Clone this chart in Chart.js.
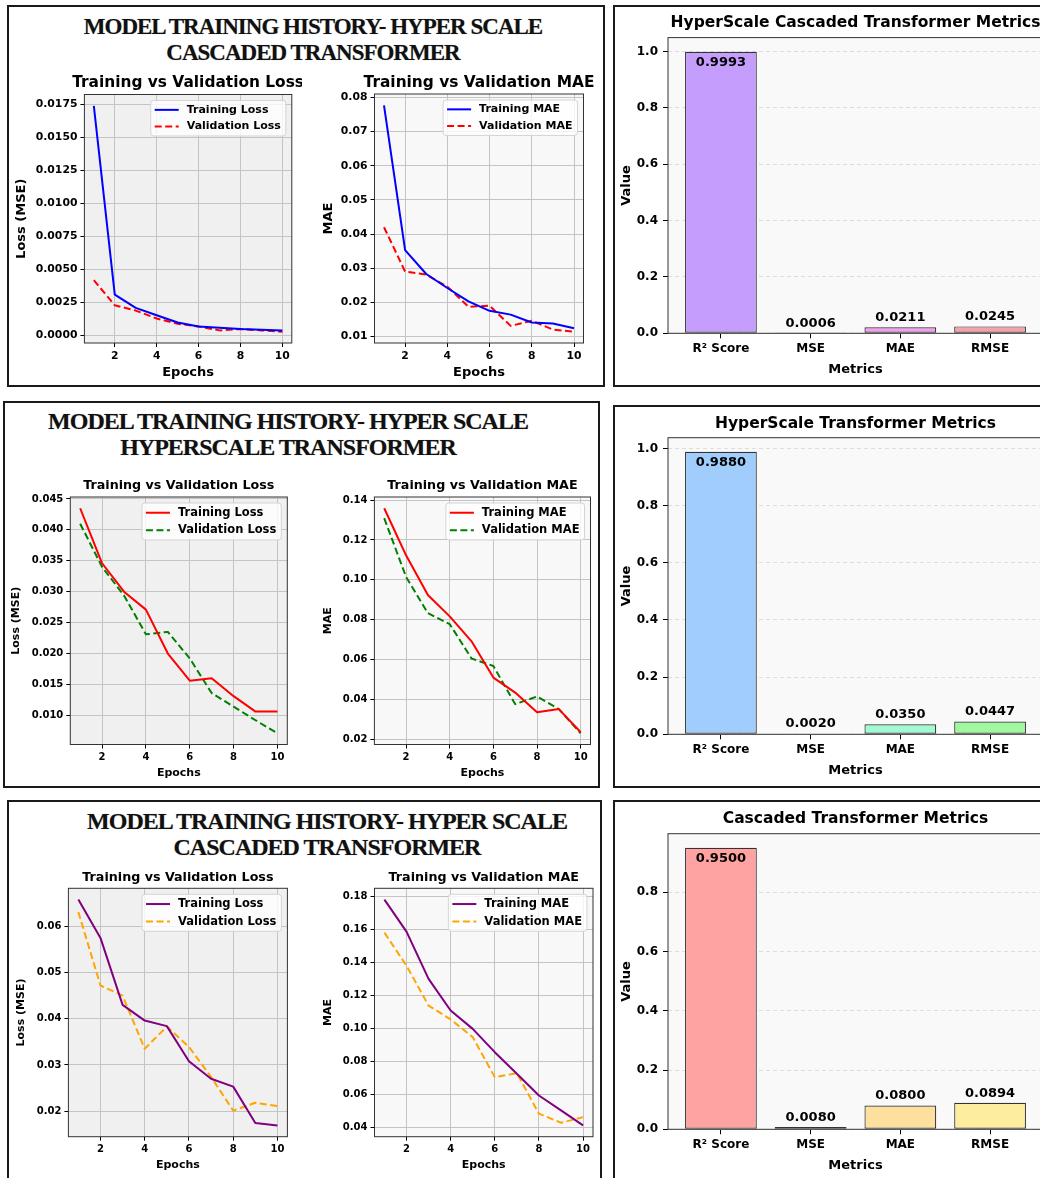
<!DOCTYPE html>
<html>
<head>
<meta charset="utf-8">
<title>Model training history - HyperScale transformers</title>
<script src="https://cdn.jsdelivr.net/npm/chart.js@4.4.1/dist/chart.umd.min.js"></script>
<style>
html, body { margin: 0; padding: 0; width: 1040px; height: 1178px; overflow: hidden; background: #fff; }
body { position: relative; }
.box { position: absolute; border: 2px solid #1a1a1a; box-sizing: border-box; }
.head { position: absolute; width: 600px; text-align: center; color: #111;
        font-family: "Liberation Serif", "Times New Roman", serif; font-weight: bold;
        letter-spacing: -1px; line-height: 25.6px; text-shadow: 0 0 1px rgba(0,0,0,0.35); }
canvas { position: absolute; }
</style>
</head>
<body>

<div class="box" style="left:7px;top:5px;width:598px;height:382px"></div>
<div class="box" style="left:613px;top:5px;width:600px;height:382px"></div>
<div class="box" style="left:3px;top:401px;width:597px;height:387px"></div>
<div class="box" style="left:613px;top:405px;width:600px;height:383px"></div>
<div class="box" style="left:7px;top:800px;width:595px;height:420px"></div>
<div class="box" style="left:613px;top:800px;width:600px;height:420px"></div>

<div class="head" style="left:13px;top:14px;font-size:23px">MODEL TRAINING HISTORY- HYPER SCALE<br>CASCADED TRANSFORMER</div>
<div class="head" style="left:-12px;top:409px;font-size:24px">MODEL TRAINING HISTORY- HYPER SCALE<br>HYPERSCALE TRANSFORMER</div>
<div class="head" style="left:27px;top:809px;font-size:24px">MODEL TRAINING HISTORY- HYPER SCALE<br>CASCADED TRANSFORMER</div>

<script>
// ---- data ----
const epochs = [1, 2, 3, 4, 5, 6, 7, 8, 9, 10];
const epochTicks = [2, 4, 6, 8, 10];

// HyperScale Cascaded Transformer (top row)
const hcTrainLoss = [0.0174, 0.0031, 0.0021, 0.00155, 0.0010, 0.0007, 0.0006, 0.0005, 0.00045, 0.0004];
const hcValLoss   = [0.0042, 0.0023, 0.0019, 0.0013, 0.0009, 0.0007, 0.0004, 0.0005, 0.0004, 0.0003];
const hcTrainMae  = [0.0777, 0.0353, 0.0283, 0.0242, 0.0203, 0.0175, 0.0164, 0.0141, 0.0138, 0.0124];
const hcValMae    = [0.0420, 0.0290, 0.0281, 0.0246, 0.0187, 0.0190, 0.0131, 0.0146, 0.0120, 0.0114];

// HyperScale Transformer (middle row)
const hsTrainLoss = [0.0435, 0.0346, 0.0300, 0.0271, 0.0200, 0.0156, 0.0160, 0.0131, 0.0106, 0.0106];
const hsValLoss   = [0.0410, 0.0340, 0.0294, 0.0231, 0.0235, 0.0192, 0.0136, 0.0114, 0.0092, 0.0071];
const hsTrainMae  = [0.1359, 0.1123, 0.0924, 0.0817, 0.0692, 0.0510, 0.0435, 0.0336, 0.0352, 0.0236];
const hsValMae    = [0.1309, 0.1015, 0.0833, 0.0778, 0.0606, 0.0568, 0.0377, 0.0415, 0.0352, 0.0231];

// Cascaded Transformer (bottom row)
const ctTrainLoss = [0.0658, 0.0575, 0.0430, 0.0396, 0.0384, 0.0308, 0.0270, 0.0253, 0.0174, 0.0169];
const ctValLoss   = [0.0631, 0.0472, 0.0450, 0.0335, 0.0383, 0.0339, 0.0274, 0.0201, 0.0218, 0.0211];
const ctTrainMae  = [0.1780, 0.1586, 0.1300, 0.1109, 0.0998, 0.0857, 0.0726, 0.0595, 0.0505, 0.0414];
const ctValMae    = [0.1580, 0.1380, 0.1139, 0.1055, 0.0948, 0.0706, 0.0730, 0.0485, 0.0430, 0.0464];

// final metrics
const metricNames = ['R\u00b2 Score', 'MSE', 'MAE', 'RMSE'];
const hcMetrics = [0.9993, 0.0006, 0.0211, 0.0245];
const hsMetrics = [0.9880, 0.0020, 0.0350, 0.0447];
const ctMetrics = [0.9500, 0.0080, 0.0800, 0.0894];

// tick values
const hcLossTicks = [0, 0.0025, 0.005, 0.0075, 0.01, 0.0125, 0.015, 0.0175];
const hcMaeTicks  = [0.01, 0.02, 0.03, 0.04, 0.05, 0.06, 0.07, 0.08];
const hsLossTicks = [0.010, 0.015, 0.020, 0.025, 0.030, 0.035, 0.040, 0.045];
const hsMaeTicks  = [0.02, 0.04, 0.06, 0.08, 0.10, 0.12, 0.14];
const ctLossTicks = [0.02, 0.03, 0.04, 0.05, 0.06];
const ctMaeTicks  = [0.04, 0.06, 0.08, 0.10, 0.12, 0.14, 0.16, 0.18];
const metricTicks = [0, 0.2, 0.4, 0.6, 0.8, 1.0];
const metricTicksShort = [0, 0.2, 0.4, 0.6, 0.8];

Chart.defaults.font.family = "'DejaVu Sans', sans-serif";
Chart.defaults.font.weight = 'bold';
Chart.defaults.color = '#000';

// ---- small plugins ----
const plotBg = {
  id: 'plotBg',
  beforeDraw(c, a, o) {
    const r = c.chartArea;
    c.ctx.save();
    c.ctx.fillStyle = o.color;
    c.ctx.fillRect(r.left, r.top, r.right - r.left, r.bottom - r.top);
    c.ctx.restore();
  }
};

const frame = {
  id: 'frame',
  afterDatasetsDraw(c) {
    const r = c.chartArea;
    c.ctx.save();
    c.ctx.strokeStyle = '#333';
    c.ctx.lineWidth = 1;
    c.ctx.strokeRect(r.left, r.top, r.right - r.left, r.bottom - r.top);
    c.ctx.restore();
  }
};

const plotTitle = {
  id: 'plotTitle',
  afterDraw(c, a, o) {
    const r = c.chartArea, ctx = c.ctx;
    ctx.save();
    ctx.font = 'bold ' + o.size + 'px "DejaVu Sans"';
    ctx.fillStyle = '#000';
    ctx.textAlign = 'center';
    ctx.textBaseline = 'middle';
    ctx.fillText(o.text, (r.left + r.right) / 2, r.top - o.gap);
    ctx.restore();
  }
};

const insideLegend = {
  id: 'insideLegend',
  afterDraw(c, a, o) {
    const r = c.chartArea, ctx = c.ctx, sets = c.data.datasets;
    ctx.save();
    ctx.font = 'bold ' + o.size + 'px "DejaVu Sans"';
    const tw = Math.max(...sets.map(d => ctx.measureText(d.label).width));
    const rowH = o.size * 1.52;
    const w = 4 + 24 + 8 + tw + 5;
    const h = sets.length * rowH + 2;
    const x = r.right - 6 - w, y = r.top + 6;
    ctx.fillStyle = 'rgba(255,255,255,0.8)';
    ctx.strokeStyle = '#d4d4d4';
    ctx.lineWidth = 1;
    ctx.beginPath();
    ctx.roundRect(x, y, w, h, 3);
    ctx.fill();
    ctx.stroke();
    sets.forEach((d, i) => {
      const cy = y + 1 + rowH * (i + 0.5);
      ctx.strokeStyle = d.borderColor;
      ctx.lineWidth = d.borderWidth;
      ctx.setLineDash(d.borderDash);
      ctx.beginPath();
      ctx.moveTo(x + 4, cy);
      ctx.lineTo(x + 28, cy);
      ctx.stroke();
      ctx.setLineDash([]);
      ctx.fillStyle = '#000';
      ctx.textBaseline = 'middle';
      ctx.fillText(d.label, x + 36, cy);
    });
    ctx.restore();
  }
};

const barValues = {
  id: 'barValues',
  afterDatasetsDraw(c, a, o) {
    const ctx = c.ctx, meta = c.getDatasetMeta(0), ds = c.data.datasets[0];
    ctx.save();
    ctx.font = 'bold ' + o.size + 'px "DejaVu Sans"';
    ctx.fillStyle = '#000';
    ctx.textAlign = 'center';
    ctx.textBaseline = 'alphabetic';
    meta.data.forEach((bar, i) => {
      const v = ds.data[i].y;
      const y = v > 0.5 ? bar.y + 14 : bar.y - 6.3;
      ctx.fillText(v.toFixed(4), bar.x, y);
    });
    ctx.restore();
  }
};

// ---- helpers ----
function addCanvas(left, top, w, h) {
  const cv = document.createElement('canvas');
  cv.width = w; cv.height = h;
  cv.style.left = left + 'px'; cv.style.top = top + 'px';
  cv.style.width = w + 'px'; cv.style.height = h + 'px';
  document.body.appendChild(cv);
  return cv;
}

function frameBox(s) {
  const lh = s.axisSize * 1.2;
  const left = Math.round(s.yTitleX - lh / 2);
  const top = Math.round(s.titleY - 14);
  const bottom = Math.round(s.xTitleY + lh / 2);
  const right = Math.round(s.rect.r + 10);
  return { left, top, w: right - left, h: bottom - top,
           yW: s.rect.l - left, xH: bottom - s.rect.b,
           padTop: s.rect.t - top, padRight: right - s.rect.r };
}

// matplotlib style 5% margins
function padRange(lo, hi) {
  const m = (hi - lo) * 0.05;
  return [lo - m, hi + m];
}

function lineChart(s) {
  const f = frameBox(s);
  const cv = addCanvas(f.left, f.top, f.w, f.h);
  const all = s.series.flatMap(d => d.values);
  const ylim = padRange(Math.min(...all), Math.max(...all));
  const xlim = padRange(epochs[0], epochs[epochs.length - 1]);
  const tickFont = { size: s.tickSize, weight: 'bold' };
  const axisFont = { size: s.axisSize, weight: 'bold' };
  const grid = { color: '#c4c4c4', lineWidth: 1, tickLength: 4, tickColor: '#000', tickWidth: 1 };
  new Chart(cv, {
    type: 'line',
    data: {
      datasets: s.series.map(d => ({
        label: d.label,
        data: epochs.map((e, i) => ({ x: e, y: d.values[i] })),
        borderColor: d.color, borderWidth: 2, borderDash: d.dash || [],
        borderJoinStyle: 'round', pointRadius: 0, tension: 0, fill: false
      }))
    },
    options: {
      responsive: false, animation: false, events: [],
      layout: { autoPadding: false, padding: { left: 0, top: f.padTop, right: f.padRight, bottom: 0 } },
      scales: {
        x: {
          type: 'linear', min: xlim[0], max: xlim[1], bounds: 'data',
          afterBuildTicks: sc => { sc.ticks = epochTicks.map(v => ({ value: v })); },
          afterFit: sc => { sc.height = f.xH; },
          ticks: { font: tickFont, padding: 2.5, maxRotation: 0, autoSkip: false, callback: v => String(v) },
          grid: grid, border: { display: false },
          title: { display: true, text: 'Epochs', font: axisFont, padding: 0 }
        },
        y: {
          type: 'linear', min: ylim[0], max: ylim[1], bounds: 'data',
          afterBuildTicks: sc => { sc.ticks = s.yTicks.map(v => ({ value: v })); },
          afterFit: sc => { sc.width = f.yW; },
          ticks: { font: tickFont, padding: 3, autoSkip: false, callback: v => v.toFixed(s.yDec) },
          grid: grid, border: { display: false },
          title: { display: true, text: s.yLabel, font: axisFont, padding: 0 }
        }
      },
      plugins: {
        legend: { display: false }, tooltip: { enabled: false },
        plotBg: { color: s.bg },
        plotTitle: { text: s.title, size: s.titleSize, gap: s.rect.t - s.titleY },
        insideLegend: { size: s.legendSize }
      }
    },
    plugins: [plotBg, frame, plotTitle, insideLegend]
  });
}

function barChart(s) {
  const f = frameBox(s);
  const cv = addCanvas(f.left, f.top, f.w, f.h);
  const top = Math.max(...s.values) * 1.05;
  const tickFont = { size: 12, weight: 'bold' };
  const axisFont = { size: s.axisSize, weight: 'bold' };
  new Chart(cv, {
    type: 'bar',
    data: {
      datasets: [{
        data: s.values.map((v, i) => ({ x: i, y: v })),
        backgroundColor: s.colors, borderColor: '#333', borderWidth: 1.2,
        borderSkipped: false, barPercentage: 0.8, categoryPercentage: 1.0
      }]
    },
    options: {
      responsive: false, animation: false, events: [],
      layout: { autoPadding: false, padding: { left: 0, top: f.padTop, right: f.padRight, bottom: 0 } },
      scales: {
        x: {
          type: 'linear', min: -0.59, max: metricNames.length - 1 + 0.59, bounds: 'data',
          offset: false,
          afterBuildTicks: sc => { sc.ticks = metricNames.map((n, i) => ({ value: i })); },
          afterFit: sc => { sc.height = f.xH; },
          ticks: { font: tickFont, padding: 3.5, maxRotation: 0, autoSkip: false, callback: v => metricNames[v] },
          grid: { offset: false, drawOnChartArea: false, tickLength: 5, tickColor: '#000', tickWidth: 1 },
          border: { display: false },
          title: { display: true, text: 'Metrics', font: axisFont, padding: 0 }
        },
        y: {
          type: 'linear', min: 0, max: top, bounds: 'data',
          afterBuildTicks: sc => { sc.ticks = s.yTicks.map(v => ({ value: v })); },
          afterFit: sc => { sc.width = f.yW; },
          ticks: { font: tickFont, padding: 5, autoSkip: false, callback: v => v.toFixed(1) },
          grid: { color: '#dedede', lineWidth: 1, tickLength: 5, tickColor: '#000', tickWidth: 1 },
          border: { display: false, dash: [4, 3] },
          title: { display: true, text: 'Value', font: axisFont, padding: 0 }
        }
      },
      plugins: {
        legend: { display: false }, tooltip: { enabled: false },
        plotBg: { color: '#f9f9f9' },
        plotTitle: { text: s.title, size: 15.5, gap: s.rect.t - s.titleY },
        barValues: { size: 13 }
      }
    },
    plugins: [plotBg, frame, plotTitle, barValues]
  });
}

// ---- top row ----
lineChart({
  rect: { l: 84.4, t: 94.5, r: 291.8, b: 343 }, titleY: 82.7, yTitleX: 21.4, xTitleY: 372.3,
  titleSize: 15.4, axisSize: 13, tickSize: 10.8, legendSize: 11, bg: '#f0f0f0',
  title: 'Training vs Validation Loss', yLabel: 'Loss (MSE)', yTicks: hcLossTicks, yDec: 4,
  series: [
    { label: 'Training Loss', values: hcTrainLoss, color: '#0000ff' },
    { label: 'Validation Loss', values: hcValLoss, color: '#ff0000', dash: [7, 3.5] }
  ]
});
lineChart({
  rect: { l: 374.5, t: 94, r: 583.5, b: 343 }, titleY: 82.7, yTitleX: 328.8, xTitleY: 372.3,
  titleSize: 15.4, axisSize: 13, tickSize: 10.8, legendSize: 11, bg: '#f8f8f8',
  title: 'Training vs Validation MAE', yLabel: 'MAE', yTicks: hcMaeTicks, yDec: 2,
  series: [
    { label: 'Training MAE', values: hcTrainMae, color: '#0000ff' },
    { label: 'Validation MAE', values: hcValMae, color: '#ff0000', dash: [7, 3.5] }
  ]
});
barChart({
  rect: { l: 668, t: 37.6, r: 1043, b: 333.3 }, titleY: 23.3, yTitleX: 627, xTitleY: 369, axisSize: 13,
  title: 'HyperScale Cascaded Transformer Metrics', values: hcMetrics, yTicks: metricTicks,
  colors: ['#c59dfc', '#dca4f2', '#f59df2', '#f7a1ab']
});

// ---- middle row ----
lineChart({
  rect: { l: 70.3, t: 497, r: 287.3, b: 744.5 }, titleY: 485.7, yTitleX: 16.4, xTitleY: 773.3,
  titleSize: 12.7, axisSize: 11, tickSize: 10, legendSize: 11.5, bg: '#f0f0f0',
  title: 'Training vs Validation Loss', yLabel: 'Loss (MSE)', yTicks: hsLossTicks, yDec: 3,
  series: [
    { label: 'Training Loss', values: hsTrainLoss, color: '#ff0000' },
    { label: 'Validation Loss', values: hsValLoss, color: '#008000', dash: [7, 3.5] }
  ]
});
lineChart({
  rect: { l: 374.4, t: 497, r: 590.5, b: 744.5 }, titleY: 485.7, yTitleX: 329, xTitleY: 773.3,
  titleSize: 12.7, axisSize: 11, tickSize: 10, legendSize: 11.5, bg: '#f8f8f8',
  title: 'Training vs Validation MAE', yLabel: 'MAE', yTicks: hsMaeTicks, yDec: 2,
  series: [
    { label: 'Training MAE', values: hsTrainMae, color: '#ff0000' },
    { label: 'Validation MAE', values: hsValMae, color: '#008000', dash: [7, 3.5] }
  ]
});
barChart({
  rect: { l: 668, t: 437.7, r: 1043, b: 734.3 }, titleY: 424.3, yTitleX: 627, xTitleY: 770, axisSize: 13,
  title: 'HyperScale Transformer Metrics', values: hsMetrics, yTicks: metricTicks,
  colors: ['#a0cdfc', '#a0e2f2', '#a0fad2', '#a0f7a0']
});

// ---- bottom row ----
lineChart({
  rect: { l: 68.4, t: 888.3, r: 287.4, b: 1136.7 }, titleY: 877.3, yTitleX: 21.4, xTitleY: 1165,
  titleSize: 12.7, axisSize: 11, tickSize: 10, legendSize: 11.5, bg: '#f0f0f0',
  title: 'Training vs Validation Loss', yLabel: 'Loss (MSE)', yTicks: ctLossTicks, yDec: 2,
  series: [
    { label: 'Training Loss', values: ctTrainLoss, color: '#800080' },
    { label: 'Validation Loss', values: ctValLoss, color: '#ffa500', dash: [7, 3.5] }
  ]
});
lineChart({
  rect: { l: 374.5, t: 888.3, r: 593, b: 1136.7 }, titleY: 877.3, yTitleX: 329, xTitleY: 1165,
  titleSize: 12.7, axisSize: 11, tickSize: 10, legendSize: 11.5, bg: '#f8f8f8',
  title: 'Training vs Validation MAE', yLabel: 'MAE', yTicks: ctMaeTicks, yDec: 2,
  series: [
    { label: 'Training MAE', values: ctTrainMae, color: '#800080' },
    { label: 'Validation MAE', values: ctValMae, color: '#ffa500', dash: [7, 3.5] }
  ]
});
barChart({
  rect: { l: 668, t: 833.7, r: 1043, b: 1129.3 }, titleY: 819.3, yTitleX: 627, xTitleY: 1165, axisSize: 13,
  title: 'Cascaded Transformer Metrics', values: ctMetrics, yTicks: metricTicksShort,
  colors: ['#ffa2a2', '#f2b880', '#fddf9e', '#fdee9f']
});
</script>
</body>
</html>
